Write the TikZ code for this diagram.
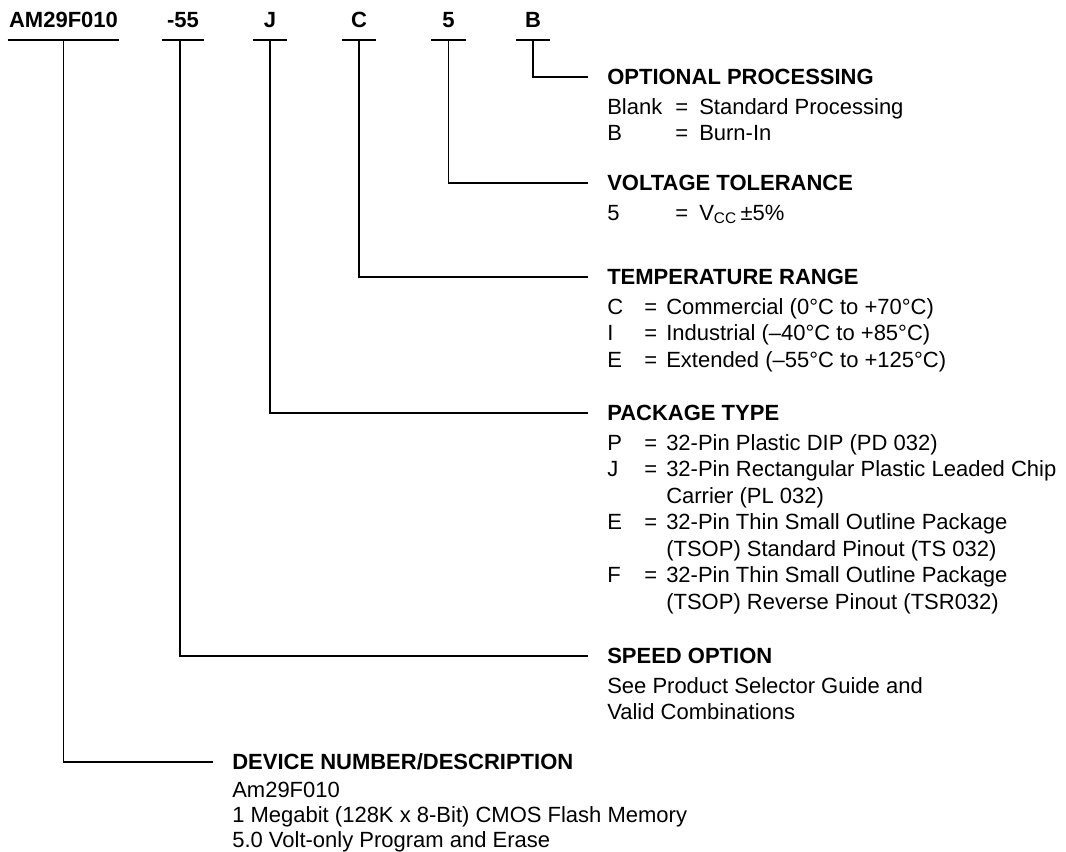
\documentclass[tikz,border=0pt]{standalone}
\usepackage{fontspec}
\setmainfont{Liberation Sans}
\usetikzlibrary{positioning}

\newcommand{\ordfont}{\fontsize{16.5}{19.9}\selectfont}
\newcommand{\ordfonttight}{\fontsize{16.5}{18.75}\selectfont}

\tikzset{
  field/.style={font=\ordfont\bfseries, anchor=base, inner xsep=0pt, inner ysep=9pt, text depth=0pt, minimum width=25.5pt},
  title/.style={font=\ordfont\bfseries, anchor=west, inner sep=0pt, text height=11.8pt, text depth=0pt},
  body/.style={font=\ordfont, anchor=base west, inner sep=0pt},
  lead/.style={line width=1.2pt, shorten >=14pt},
  bar/.style={line width=1.2pt},
}

\begin{document}
\begin{tikzpicture}[x=0.75pt, y=-0.75pt]
  \useasboundingbox (0,0) rectangle (1066,852);

  % ordering code fields
  \node[field, minimum width=83.25pt] (dev) at (63.5,28) {AM29F010};
  \node[field, minimum width=31.5pt] (spd) at (183,28) {-55};
  \node[field] (pkg) at (270,28) {J};
  \node[field] (tmp) at (359,28) {C};
  \node[field] (vlt) at (448.5,28) {5};
  \node[field] (opt) at (533,28) {B};
  \foreach \f in {dev,spd,pkg,tmp,vlt,opt}
    \draw[bar] (\f.south west) -- (\f.south east);

  % headings
  \node[title] (optT) at (607,77) {OPTIONAL PROCESSING};
  \node[title] (vltT) at (607,183) {VOLTAGE TOLERANCE};
  \node[title] (tmpT) at (607,277) {TEMPERATURE RANGE};
  \node[title] (pkgT) at (607,413) {PACKAGE TYPE};
  \node[title] (spdT) at (607,656) {SPEED OPTION};
  \node[title] (devT) at (232,762) {DEVICE NUMBER/DESCRIPTION};

  % descriptions
  \node[below=21.75pt of optT.south west, body] (optB) {%
    \begin{tabular}[t]{@{}p{51pt}@{}p{18pt}@{}l@{}}
      Blank & = & Standard Processing\\
      B & = & Burn-In
    \end{tabular}};
  \node[below=21.75pt of vltT.south west, body] (vltB) {%
    \begin{tabular}[t]{@{}p{51pt}@{}p{18pt}@{}l@{}}
      5 & = & V\textsubscript{CC}\,±5\%
    \end{tabular}};
  \node[below=21.75pt of tmpT.south west, body] (tmpB) {%
    \begin{tabular}[t]{@{}p{27.75pt}@{}p{16.5pt}@{}l@{}}
      C & = & Commercial (0°C to +70°C)\\
      I & = & Industrial (--40°C to +85°C)\\
      E & = & Extended (--55°C to +125°C)
    \end{tabular}};
  \node[below=21.75pt of pkgT.south west, body] (pkgB) {%
    \begin{tabular}[t]{@{}p{27.75pt}@{}p{16.5pt}@{}l@{}}
      P & = & 32-Pin Plastic DIP (PD 032)\\
      J & = & 32-Pin Rectangular Plastic Leaded Chip\\
        &   & Carrier (PL 032)\\
      E & = & 32-Pin Thin Small Outline Package\\
        &   & (TSOP) Standard Pinout (TS 032)\\
      F & = & 32-Pin Thin Small Outline Package\\
        &   & (TSOP) Reverse Pinout (TSR032)
    \end{tabular}};
  \node[below=21.75pt of spdT.south west, body] (spdB) {%
    \begin{tabular}[t]{@{}l@{}}
      See Product Selector Guide and\\
      Valid Combinations
    \end{tabular}};
  \node[below=20.25pt of devT.south west, body, font=\ordfonttight] (devB) {%
    \begin{tabular}[t]{@{}l@{}}
      Am29F010\\
      1 Megabit (128K x 8-Bit) CMOS Flash Memory\\
      5.0 Volt-only Program and Erase
    \end{tabular}};

  % leader lines
  \draw[lead] (opt.south) |- (optT.west);
  \draw[lead] (vlt.south) |- (vltT.west);
  \draw[lead] (tmp.south) |- (tmpT.west);
  \draw[lead] (pkg.south) |- (pkgT.west);
  \draw[lead] ([xshift=-2.25pt]spd.south) |- (spdT.west);
  \draw[lead] (dev.south) |- (devT.west);
\end{tikzpicture}
\end{document}
